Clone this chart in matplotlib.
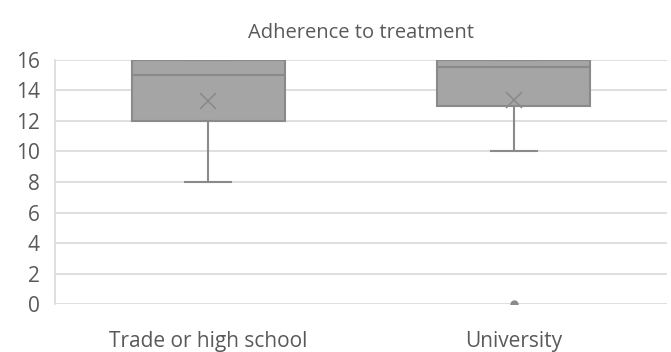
import numpy as np
import matplotlib.pyplot as plt

plt.rcParams['font.family'] = ['Open Sans', 'DejaVu Sans']

# box statistics
categories = ['Trade or high school', 'University']
whislo = [8, 10]
q1 = [12, 13]
med = [15, 15.5]
q3 = [16, 16]
whishi = [16, 16]
means = [13.3, 13.4]
fliers = [[], [0]]
yticks = [0, 2, 4, 6, 8, 10, 12, 14, 16]

stats = []
for i in range(len(categories)):
    stats.append({'label': categories[i], 'whislo': whislo[i], 'q1': q1[i],
                  'med': med[i], 'q3': q3[i], 'whishi': whishi[i],
                  'mean': means[i], 'fliers': fliers[i]})

fig = plt.figure(figsize=(6.71, 3.52), dpi=100)
ax = fig.add_axes([0.082, 0.136, 0.912, 0.694])

edge = '#8a8a8a'
ax.bxp(stats, positions=[1, 2], widths=0.5, patch_artist=True, showmeans=True,
       boxprops=dict(facecolor='#a5a5a5', edgecolor=edge, linewidth=1.5),
       medianprops=dict(color=edge, linewidth=1.5),
       whiskerprops=dict(color=edge, linewidth=1.5),
       capprops=dict(color=edge, linewidth=1.5),
       capwidths=0.15,
       meanprops=dict(marker='x', markeredgecolor='#8a8a8a', markersize=12, markeredgewidth=1.2),
       flierprops=dict(marker='o', markerfacecolor='#8a8a8a', markeredgecolor='#8a8a8a', markersize=5),
       zorder=3)

ax.set_xlim(0.5, 2.5)
ax.set_ylim(0, 16)
ax.set_yticks(yticks)
ax.yaxis.grid(True, color='#d9d9d9', linewidth=1.2, zorder=0)
ax.set_axisbelow(True)
for s in ['top', 'right', 'bottom']:
    ax.spines[s].set_visible(False)
ax.spines['left'].set_color('#d9d9d9')
ax.spines['left'].set_linewidth(1.2)
ax.tick_params(axis='y', length=0, labelsize=15, labelcolor='#595959', pad=11)
ax.tick_params(axis='x', length=0, labelsize=15, labelcolor='#595959', pad=19)
ax.set_title('Adherence to treatment', fontsize=14.5, color='#595959', pad=16)

fig.savefig('out.png', dpi=100)
